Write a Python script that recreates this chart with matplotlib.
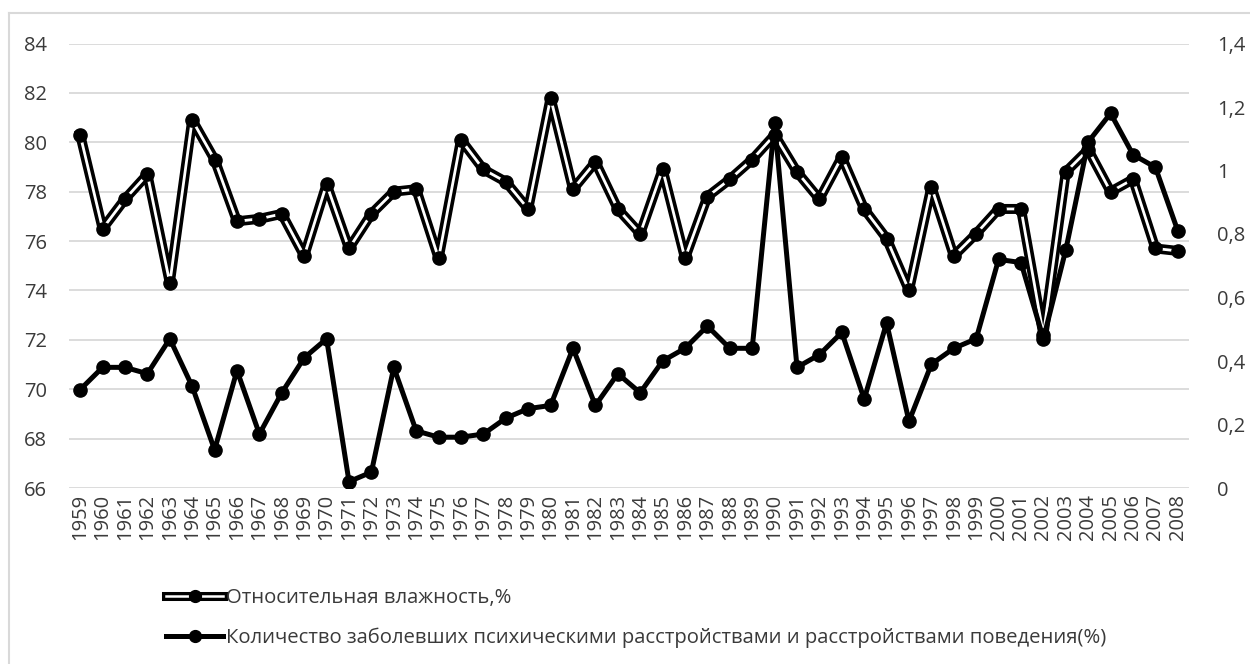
import matplotlib.pyplot as plt
from matplotlib.lines import Line2D
from matplotlib.ticker import FuncFormatter

years = list(range(1959, 2009))

humidity = [80.3, 76.5, 77.7, 78.7, 74.3, 80.9, 79.3, 76.8, 76.9, 77.1,
            75.4, 78.3, 75.7, 77.1, 78.0, 78.1, 75.3, 80.1, 78.9, 78.4,
            77.3, 81.8, 78.1, 79.2, 77.3, 76.3, 78.9, 75.3, 77.8, 78.5,
            79.3, 80.3, 78.8, 77.7, 79.4, 77.3, 76.1, 74.0, 78.2, 75.4,
            76.3, 77.3, 77.3, 72.2, 78.8, 79.7, 78.0, 78.5, 75.7, 75.6]

disorders = [0.31, 0.38, 0.38, 0.36, 0.47, 0.32, 0.12, 0.37, 0.17, 0.30,
             0.41, 0.47, 0.02, 0.05, 0.38, 0.18, 0.16, 0.16, 0.17, 0.22,
             0.25, 0.26, 0.44, 0.26, 0.36, 0.30, 0.40, 0.44, 0.51, 0.44,
             0.44, 1.15, 0.38, 0.42, 0.49, 0.28, 0.52, 0.21, 0.39, 0.44,
             0.47, 0.72, 0.71, 0.47, 0.75, 1.09, 1.18, 1.05, 1.01, 0.81]

label_hum = 'Относительная влажность,%'
label_dis = 'Количество заболевших психическими расстройствами и расстройствами поведения(%)'

plt.rcParams['font.family'] = ['Open Sans', 'DejaVu Sans']
plt.rcParams['text.color'] = '#3a3a3a'

fig = plt.figure(figsize=(12.5, 6.64), dpi=100)
ax = fig.add_axes([69 / 1250, 1 - 488 / 664, 1120 / 1250, 444.5 / 664])
ax2 = ax.twinx()

x = list(range(len(years)))

# humidity: thick black line with a thin white core
ax.plot(x, humidity, color='black', lw=7.2, solid_joinstyle='round', zorder=3)
ax.plot(x, humidity, color='white', lw=2.0, solid_joinstyle='round', zorder=4)
ax.plot(x, humidity, ls='none', marker='o', ms=9.5, color='black', zorder=5)

ax2.plot(x, disorders, color='black', lw=3.6, marker='o', ms=9.5,
         solid_joinstyle='round', zorder=6)

ax.set_xlim(-0.5, len(years) - 0.5)
ax.set_ylim(66, 84)
ax.set_yticks(range(66, 85, 2))
ax2.set_ylim(0, 1.4)
ax2.set_yticks([0, 0.2, 0.4, 0.6, 0.8, 1.0, 1.2, 1.4])
ax2.yaxis.set_major_formatter(FuncFormatter(
    lambda v, p: '0' if v == 0 else ('1' if abs(v - 1) < 1e-9 else f'{v:.1f}'.replace('.', ','))))

ax.set_xticks(x)
ax.set_xticklabels([str(y) for y in years], rotation=90)

ax.grid(axis='y', color='#d9d9d9', lw=1.3)
ax.set_axisbelow(True)
for a in (ax, ax2):
    for s in a.spines.values():
        s.set_visible(False)
    a.tick_params(length=0, labelsize=14.5, labelcolor='#3a3a3a')
ax.tick_params(axis='y', pad=16)
ax.tick_params(axis='x', pad=4)
ax2.tick_params(axis='y', pad=20)
ax.set_zorder(ax2.get_zorder() - 1)
ax.patch.set_visible(False)

# legend entries
h_outer = Line2D([], [], color='black', lw=6.5)
h_inner = Line2D([], [], color='white', lw=1.8)
h_mark = Line2D([], [], ls='none', marker='o', ms=8.5, color='black')
h_dis = Line2D([], [], color='black', lw=3.6, marker='o', ms=8.5)
fig.legend([(h_outer, h_inner, h_mark), h_dis], [label_hum, label_dis],
           loc='upper left', bbox_to_anchor=(148 / 1250, 1 - 570 / 664),
           frameon=False, fontsize=14.6, handlelength=2.8, handletextpad=0.15,
           labelspacing=0.95, labelcolor='#3a3a3a')

# outer chart frame
fig.add_artist(Line2D([9 / 1250, 1], [1 - 13 / 664, 1 - 13 / 664],
                      color='#d9d9d9', lw=1.5, transform=fig.transFigure))
fig.add_artist(Line2D([9 / 1250, 9 / 1250], [0, 1 - 13 / 664],
                      color='#d9d9d9', lw=1.5, transform=fig.transFigure))

fig.savefig('out.png', dpi=100, facecolor='white')
